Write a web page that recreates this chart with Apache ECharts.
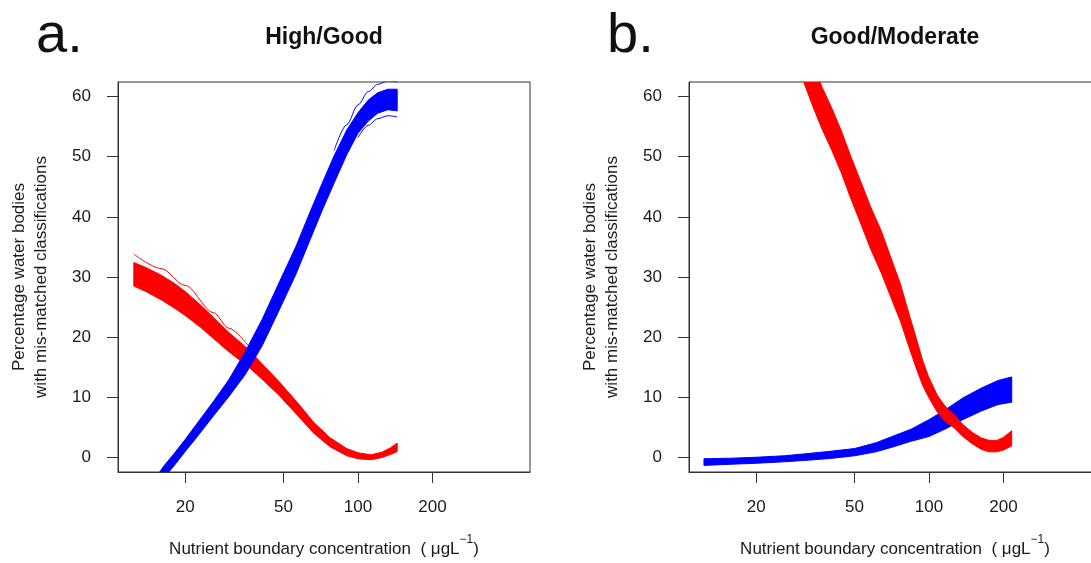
<!DOCTYPE html>
<html>
<head>
<meta charset="utf-8">
<script src="https://cdn.jsdelivr.net/npm/echarts@6/dist/echarts.min.js"></script>
<style>
html,body{margin:0;padding:0;background:#fff;}
#chart{width:1091px;height:563px;}
</style>
</head>
<body>
<div id="chart"></div>
<script>
// ---- tick labels / texts ----
const X_TICKS = [20, 50, 100, 200];
const Y_TICKS = [0, 10, 20, 30, 40, 50, 60];
const PANEL_LETTERS = ['a.', 'b.'];
const PANEL_TITLES = ['High/Good', 'Good/Moderate'];
const Y_NAME = 'Percentage water bodies\nwith mis-matched classifications';

// ---- Panel a (High/Good): envelope of the bootstrap curve bundles ----
const redA_x  = [12.4, 14, 16, 18, 20, 23, 26, 30, 36, 42, 48, 57, 66, 77, 90, 100, 113, 125, 135, 144];
const redA_lo = [28.5, 27.5, 26.2, 24.9, 23.6, 21.7, 19.8, 17.6, 15.1, 12.6, 10.3, 7.0, 4.1, 1.8, 0.3, -0.2, -0.35, 0.0, 0.5, 1.0];
const redA_hi = [32.4, 31.5, 30.3, 29.0, 27.6, 25.4, 23.3, 20.8, 18.0, 15.1, 12.6, 9.1, 5.9, 3.3, 1.5, 0.8, 0.45, 0.9, 1.6, 2.4];
const redA_out_x = [12.4, 16, 20, 26, 30, 36];
const redA_out_y = [33.8, 31.4, 28.6, 24.1, 21.5, 18.6];

const blueA_x  = [15.3, 16.4, 18, 20, 22, 26, 30, 35, 41, 48, 56, 64, 72, 80, 90, 100, 110, 120, 132, 144];
const blueA_lo = [-5.2, -3.4, -1.4, 1.0, 3.1, 6.9, 10.1, 13.8, 18.6, 24.5, 30.4, 36.2, 41.3, 45.6, 50.3, 53.9, 55.9, 57.2, 57.8, 57.6];
const blueA_hi = [-3.2, -1.4, 0.6, 3.0, 5.3, 9.3, 12.9, 17.6, 23.0, 29.1, 35.0, 40.8, 45.8, 50.1, 54.4, 57.3, 59.4, 60.6, 61.2, 61.2];
const blueA_top_x = [80, 90, 100, 110, 120, 132, 144];
const blueA_top_y = [51.0, 55.3, 58.6, 60.8, 62.0, 62.6, 62.4];
const blueA_bot_x = [100, 110, 120, 132, 144];
const blueA_bot_y = [53.2, 55.2, 56.3, 56.8, 56.6];

// ---- Panel b (Good/Moderate) ----
const redB_x  = [31, 34, 37, 40.5, 44.2, 48, 52.8, 58, 64.2, 70, 76.7, 82, 88.7, 94, 99.4, 107.8, 116, 126.7, 137, 150, 163, 175, 188, 200, 216];
const redB_lo = [62.6, 58.2, 54.5, 51.0, 47.3, 43.3, 39.0, 34.7, 30.6, 26.7, 22.6, 19.0, 14.9, 12.1, 10.1, 7.6, 6.05, 4.9, 3.5, 2.25, 1.35, 0.95, 0.95, 1.25, 1.95];
const redB_hi = [69.2, 65.2, 61.5, 58.0, 54.3, 50.3, 46.0, 41.7, 37.6, 33.3, 28.8, 24.6, 19.9, 16.3, 13.5, 10.4, 8.55, 7.1, 5.5, 4.15, 3.25, 2.85, 2.85, 3.35, 4.45];

const blueB_x  = [12.3, 16, 20, 26, 32, 40, 50, 61, 72, 84.5, 100, 117, 137, 162, 190, 216];
const blueB_lo = [-1.3, -1.1, -0.95, -0.7, -0.45, -0.15, 0.3, 0.95, 1.8, 2.7, 3.5, 4.8, 6.3, 7.7, 8.8, 9.2];
const blueB_hi = [-0.2, -0.1, 0.05, 0.3, 0.65, 1.05, 1.5, 2.45, 3.6, 4.7, 6.3, 8.0, 9.9, 11.5, 12.8, 13.4];

// ---- styling ----
const FONT = "'Liberation Sans', Arial, Helvetica, sans-serif";
const RED = '#ff0000';
const BLUE = '#0000ff';
const INK = '#1a1a1a';
const GRIDS = [
  { left: 118, top: 82, width: 412, height: 390 },
  { left: 689, top: 82, width: 412, height: 390 }
];

function bandSeries(g, xs, lo, hi, color, z) {
  return {
    type: 'custom', xAxisIndex: g, yAxisIndex: g, clip: true, silent: true, z: z,
    data: xs.map((x, i) => [x, lo[i], hi[i]]),
    encode: { x: 0, y: [1, 2] },
    renderItem: function (params, api) {
      if (params.dataIndex !== 0) return null;
      const pts = [];
      for (let i = 0; i < xs.length; i++) pts.push(api.coord([xs[i], hi[i]]));
      for (let i = xs.length - 1; i >= 0; i--) pts.push(api.coord([xs[i], lo[i]]));
      return { type: 'polygon', shape: { points: pts }, style: { fill: color, stroke: color, lineWidth: 1 } };
    }
  };
}
function lineSeries(g, xs, ys, color, z) {
  return {
    type: 'line', xAxisIndex: g, yAxisIndex: g, clip: true, silent: true, z: z,
    symbol: 'none', smooth: 0.3, smoothMonotone: 'x',
    data: xs.map((x, i) => [x, ys[i]]),
    lineStyle: { color: color, width: 1 }
  };
}

function xAxisFor(g) {
  return {
    type: 'log', logBase: 10, gridIndex: g, min: 10.7, max: 496,
    axisLine: { show: true, onZero: false, lineStyle: { color: '#333', width: 1 } },
    splitLine: { show: false }, minorTick: { show: false },
    axisTick: { show: true, customValues: X_TICKS, length: 11, lineStyle: { color: '#333', width: 1 } },
    axisLabel: { customValues: X_TICKS, fontSize: 17, color: INK, fontFamily: FONT, margin: 27 },
    name: '{t|Nutrient boundary concentration  ( \u03bcgL}{s|\u22121}{t|)}',
    nameLocation: 'middle', nameGap: 62,
    nameTextStyle: {
      rich: {
        t: { fontSize: 17, fontFamily: FONT, color: INK, lineHeight: 24, verticalAlign: 'bottom' },
        s: { fontSize: 12, fontFamily: FONT, color: INK, lineHeight: 24, verticalAlign: 'top' }
      }
    }
  };
}
function yAxisFor(g) {
  return {
    type: 'value', gridIndex: g, min: -2.4, max: 62.4,
    axisLine: { show: true, onZero: false, lineStyle: { color: '#333', width: 1 } },
    splitLine: { show: false },
    axisTick: { show: true, customValues: Y_TICKS, length: 11, lineStyle: { color: '#333', width: 1 } },
    axisLabel: { customValues: Y_TICKS, fontSize: 17, color: INK, fontFamily: FONT, margin: 27 },
    name: Y_NAME, nameLocation: 'middle', nameRotate: 90, nameGap: 66,
    nameTextStyle: { fontSize: 17, fontFamily: FONT, color: INK, lineHeight: 22 }
  };
}

const graphicTexts = [];
for (let g = 0; g < 2; g++) {
  const gr = GRIDS[g];
  graphicTexts.push({
    type: 'text', x: gr.left - 82, y: 37,
    style: { text: PANEL_LETTERS[g], fontSize: 56, fontFamily: FONT, fill: '#111', align: 'left', verticalAlign: 'middle' }
  });
  graphicTexts.push({
    type: 'text', x: gr.left + 206, y: 38,
    style: { text: PANEL_TITLES[g], fontSize: 23, fontWeight: 'bold', fontFamily: FONT, fill: '#111', align: 'center', verticalAlign: 'middle' }
  });
}

const option = {
  animation: false,
  backgroundColor: '#ffffff',
  grid: GRIDS.map(gr => Object.assign({
    show: true, borderColor: '#333', borderWidth: 1, backgroundColor: 'transparent',
    containLabel: false, outerBoundsMode: 'none'
  }, gr)),
  xAxis: [xAxisFor(0), xAxisFor(1)],
  yAxis: [yAxisFor(0), yAxisFor(1)],
  graphic: graphicTexts,
  series: [
    bandSeries(0, redA_x, redA_lo, redA_hi, RED, 2),
    lineSeries(0, redA_out_x, redA_out_y, RED, 3),
    bandSeries(0, blueA_x, blueA_lo, blueA_hi, BLUE, 4),
    lineSeries(0, blueA_top_x, blueA_top_y, BLUE, 5),
    lineSeries(0, blueA_bot_x, blueA_bot_y, BLUE, 5),
    bandSeries(1, blueB_x, blueB_lo, blueB_hi, BLUE, 2),
    bandSeries(1, redB_x, redB_lo, redB_hi, RED, 4)
  ]
};

const chart = echarts.init(document.getElementById('chart'), null, { renderer: 'canvas' });
chart.setOption(option);
</script>
</body>
</html>
